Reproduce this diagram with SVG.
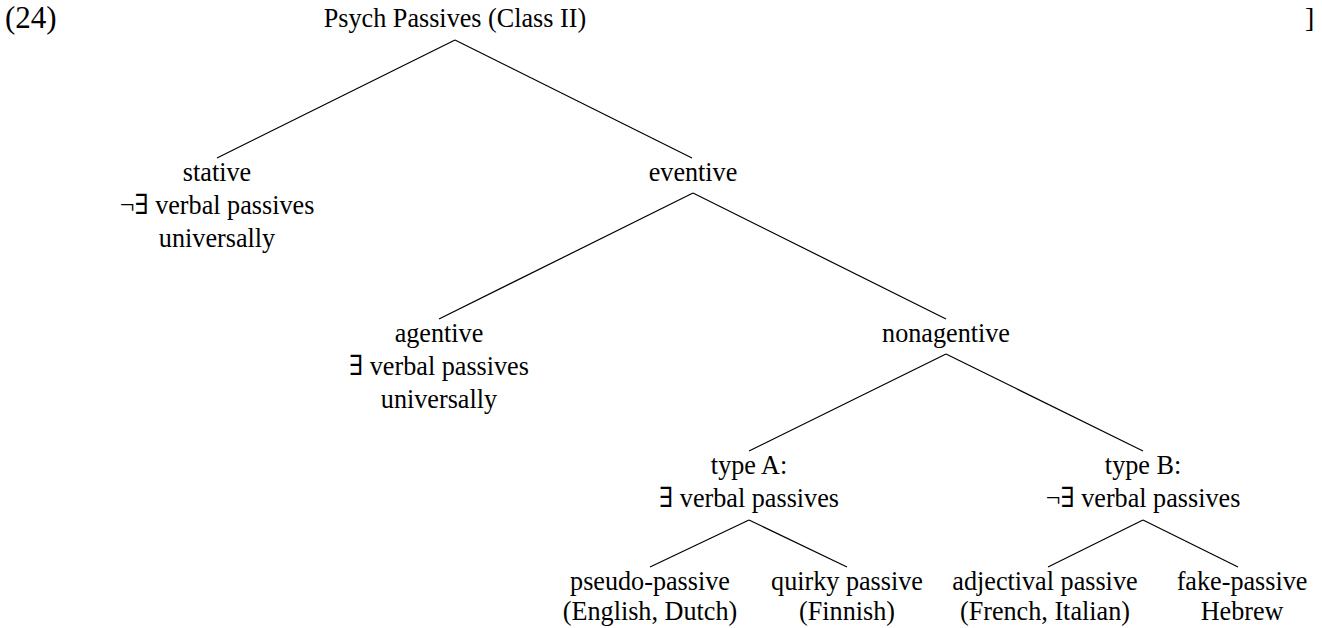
<svg xmlns="http://www.w3.org/2000/svg" width="1322" height="628" viewBox="0 0 1322 628">
<style>
text{font-family:'Liberation Serif','Times New Roman','DejaVu Serif',serif;font-size:28px;fill:#000;text-anchor:middle}
.l{text-anchor:start}
.n{transform:scale(0.935,1)}
#edges line{stroke:#000;stroke-width:1.2}
</style>
<rect width="1322" height="628" fill="#fff"/>
<g id="label"><text class="l" x="5" y="28" style="font-size:31px">(24)</text><text class="l" x="1305" y="27">]</text></g>
<g id="edges">
<line x1="455" y1="40" x2="217" y2="158"/>
<line x1="455" y1="40" x2="692" y2="158"/>
<line x1="693" y1="193" x2="439" y2="319"/>
<line x1="693" y1="193" x2="946" y2="319"/>
<line x1="946" y1="354" x2="749" y2="451"/>
<line x1="946" y1="354" x2="1143" y2="451"/>
<line x1="749" y1="520" x2="650" y2="567"/>
<line x1="749" y1="520" x2="847" y2="567"/>
<line x1="1143" y1="520" x2="1048" y2="567"/>
<line x1="1143" y1="520" x2="1238" y2="567"/>
</g>
<g id="root" class="n"><text x="486.6" y="27">Psych Passives (Class II)</text></g>
<g id="stative" class="n"><text x="232.1" y="181">stative</text><text x="232.1" y="214">¬∃ verbal passives</text><text x="232.1" y="247">universally</text></g>
<g id="eventive" class="n"><text x="741.2" y="181">eventive</text></g>
<g id="agentive" class="n"><text x="469.5" y="342">agentive</text><text x="469.5" y="375">∃ verbal passives</text><text x="469.5" y="408">universally</text></g>
<g id="nonagentive" class="n"><text x="1011.8" y="342">nonagentive</text></g>
<g id="typeA" class="n"><text x="801.1" y="474">type A:</text><text x="801.1" y="507">∃ verbal passives</text></g>
<g id="typeB" class="n"><text x="1222.5" y="474">type B:</text><text x="1222.5" y="507">¬∃ verbal passives</text></g>
<g id="pseudo" class="n"><text x="695.2" y="590">pseudo-passive</text><text x="695.2" y="620">(English, Dutch)</text></g>
<g id="quirky" class="n"><text x="905.9" y="590">quirky passive</text><text x="905.9" y="620">(Finnish)</text></g>
<g id="adjectival" class="n"><text x="1117.6" y="590">adjectival passive</text><text x="1117.6" y="620">(French, Italian)</text></g>
<g id="fake" class="n"><text x="1328.4" y="590">fake-passive</text><text x="1328.4" y="620">Hebrew</text></g>
</svg>
